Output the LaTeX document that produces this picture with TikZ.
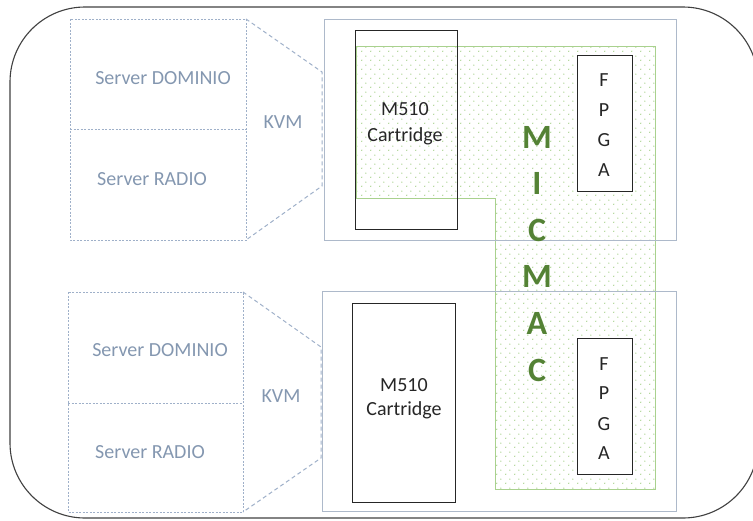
\documentclass[tikz,border=0pt]{standalone}
\usepackage{fontspec}
\setmainfont{Carlito}
\usetikzlibrary{patterns.meta}
\definecolor{srvline}{HTML}{9FB0C9}
\definecolor{srvtext}{HTML}{8497B0}
\definecolor{chassis}{HTML}{ADB9CA}
\definecolor{micgreen}{HTML}{A9D18E}
\definecolor{micdot}{HTML}{9CCB7E}
\definecolor{mictext}{HTML}{548235}
\definecolor{darktext}{HTML}{262626}
\tikzdeclarepattern{
  name=micdots, type=uncolored,
  bounding box={(0pt,0pt) and (9pt,9pt)},
  tile size={(9pt,9pt)},
  code={\fill (2pt,2pt) circle (0.75pt); \fill (6.5pt,6.5pt) circle (0.75pt);}
}
\tikzset{
  srvbox/.style={draw=srvline, dash pattern=on 2pt off 1.5pt, line width=1pt},
  kvmline/.style={draw=srvline, dash pattern=on 4pt off 3pt, line width=1pt},
  chassisbox/.style={draw=chassis, line width=1pt},
  cartbox/.style={draw=black!85, line width=1pt},
  fpgabox/.style={draw=black!85, line width=1pt, fill=white},
  srvlabel/.style={text=srvtext, font=\fontsize{20}{24}\selectfont, inner sep=0pt},
  darklabel/.style={text=darktext, font=\fontsize{20}{24}\selectfont, inner sep=0pt},
  miclabel/.style={text=mictext, font=\fontsize{34}{40}\selectfont\bfseries, inner sep=0pt},
}
\begin{document}
\begin{tikzpicture}[x=1pt,y=-1pt]
\useasboundingbox (0,0) rectangle (753,520);
% outer frame
\draw[draw=black!75, line width=1.1pt, rounded corners=75pt] (10,7) rectangle (758,518);

% MICMAC region
\draw[draw=micgreen, line width=1pt, pattern={micdots}, pattern color=micdot]
  (356,46) -- (655,46) -- (655,489) -- (495,489) -- (495,198) -- (356,198) -- cycle;

% ---------- top unit ----------
\draw[srvbox] (70,19) rectangle (246,240);
\draw[srvbox] (70,129) -- (246,129);
\coordinate (t1) at (246,19);
\coordinate (t2) at (322,72);
\coordinate (t3) at (322,186);
\coordinate (t4) at (246,240);
\draw[kvmline] (t1) -- (t2) -- (t3) -- (t4);
\node[srvlabel] (tdom) at (163,78) {Server DOMINIO};
\node[srvlabel] (trad) at (152,179) {Server RADIO};
\node[srvlabel] (tkvm) at (283,122) {KVM};

\draw[chassisbox] (324,19) rectangle (676,240);
\draw[cartbox] (355,30) rectangle (457,229);
\node[darklabel] (tm510) at (405,109) {M510};
\node[darklabel] (tcart) at (405,136) {Cartridge};

\draw[fpgabox] (577,55) rectangle (632,191);
\node[darklabel] (tf) at (604,80) {F};
\node[darklabel] (tp) at (604,110) {P};
\node[darklabel] (tg) at (604,140) {G};
\node[darklabel] (ta) at (604,170) {A};

% ---------- bottom unit ----------
\draw[srvbox] (68,292) rectangle (243,512);
\draw[srvbox] (68,403) -- (243,403);
\coordinate (b1) at (243,292);
\coordinate (b2) at (321,347);
\coordinate (b3) at (321,458);
\coordinate (b4) at (243,512);
\draw[kvmline] (b1) -- (b2) -- (b3) -- (b4);
\node[srvlabel] (bdom) at (160,350) {Server DOMINIO};
\node[srvlabel] (brad) at (150,452) {Server RADIO};
\node[srvlabel] (bkvm) at (281,396) {KVM};

\draw[chassisbox] (322,291) rectangle (676,511);
\draw[cartbox] (352,303) rectangle (455,502);
\node[darklabel] (bm510) at (404,385) {M510};
\node[darklabel] (bcart) at (404,410) {Cartridge};

\draw[fpgabox] (577,338) rectangle (632,474);
\node[darklabel] (bf) at (604,364) {F};
\node[darklabel] (bp) at (604,393) {P};
\node[darklabel] (bg) at (604,424) {G};
\node[darklabel] (ba) at (604,453) {A};

% MICMAC letters
\node[miclabel] (m1) at (537,137) {M};
\node[miclabel] (m2) at (537,183) {I};
\node[miclabel] (m3) at (537,230) {C};
\node[miclabel] (m4) at (537,276) {M};
\node[miclabel] (m5) at (537,323) {A};
\node[miclabel] (m6) at (537,370) {C};
\end{tikzpicture}
\end{document}
